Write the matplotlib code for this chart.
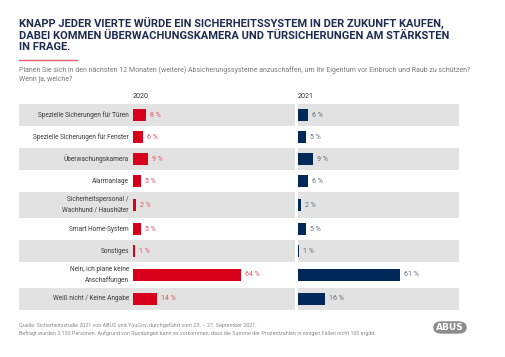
import matplotlib.pyplot as plt
from matplotlib.patches import FancyBboxPatch

# data
categories = ['Spezielle Sicherungen für Türen', 'Spezielle Sicherungen für Fenster',
              'Überwachungskamera', 'Alarmanlage',
              'Sicherheitspersonal /\nWachhund / Haushüter', 'Smart Home-System',
              'Sonstiges', 'Nein, ich plane keine\nAnschaffungen', 'Weiß nicht / Keine Angabe']
values_2020 = [8, 6, 9, 5, 2, 5, 1, 64, 14]
values_2021 = [6, 5, 9, 6, 2, 5, 1, 61, 16]
years = ['2020', '2021']

W, H = 506, 357
fig = plt.figure(figsize=(W / 100, H / 100), dpi=100)
plt.rcParams['font.family'] = ['Roboto', 'DejaVu Sans']

red = '#d9001b'
navy = '#00295a'
band = '#e2e2e2'

def fx(x):
    return x / W

def fy(y):
    return 1 - y / H

# title
fig.text(fx(19), fy(17), 'KNAPP JEDER VIERTE WÜRDE EIN SICHERHEITSSYSTEM IN DER ZUKUNFT KAUFEN,\n'
         'DABEI KOMMEN ÜBERWACHUNGSKAMERA UND TÜRSICHERUNGEN AM STÄRKSTEN\nIN FRAGE.',
         ha='left', va='top', fontsize=8.0, fontweight='bold', color='#1d2b4f', linespacing=1.15)
fig.add_artist(plt.Line2D([fx(19), fx(77)], [fy(59.5), fy(59.5)], color='#e4606c', lw=1))
fig.text(fx(19), fy(66), 'Planen Sie sich in den nächsten 12 Monaten (weitere) Absicherungssysteme anzuschaffen, '
         'um Ihr Eigentum vor Einbruch und Raub zu schützen?\nWenn ja, welche?',
         ha='left', va='top', fontsize=5.0, color='#7a7a7a', linespacing=1.5)

# row layout (two-line labels get taller rows)
heights = [26 if '\n' in c else 22 for c in categories]
edges = [0]
for h in heights:
    edges.append(edges[-1] + h)
centers = [(edges[i] + edges[i + 1]) / 2 for i in range(len(categories))]
total = edges[-1]
top = 104
scale = 1.68  # px per percent

ax1 = fig.add_axes([fx(19), fy(top + total), fx(295 - 19), total / H])
ax2 = fig.add_axes([fx(297.7), fy(top + total), fx(459 - 297.7), total / H])
ax1.set_xlim(-(133 - 19) / scale, (295 - 133) / scale)
ax2.set_xlim(0, (459 - 297.7) / scale)

for ax, vals, col, lcol in [(ax1, values_2020, red, '#e4505f'), (ax2, values_2021, navy, '#5b6a80')]:
    ax.set_ylim(total, 0)
    for i in range(0, len(categories), 2):
        ax.axhspan(edges[i], edges[i + 1], color=band, lw=0, zorder=0)
    ax.barh(centers, vals, height=12, color=col, zorder=2)
    for c, v in zip(centers, vals):
        ax.text(v + 4 / scale, c, f'{v} %', ha='left', va='center', fontsize=5.0, color=lcol)
    ax.axis('off')

for c, lab in zip(centers, categories):
    ax1.text(-4 / scale, c, lab, ha='right', va='center', fontsize=4.7, color='#3a3a3a', linespacing=1.7)

fig.text(fx(133), fy(97), years[0], ha='left', va='center', fontsize=5.2, color='#333333')
fig.text(fx(298), fy(97), years[1], ha='left', va='center', fontsize=5.2, color='#333333')

# footer
fig.text(fx(19), fy(322), 'Quelle: Sicherheitsstudie 2021 von ABUS und YouGov, durchgeführt vom 23. – 27. September 2021.\n'
         'Befragt wurden 2.130 Personen. Aufgrund von Rundungen kann es vorkommen, dass die Summe der '
         'Prozentzahlen in einigen Fällen nicht 100 ergibt.',
         ha='left', va='top', fontsize=3.85, color='#8a8a8a', linespacing=1.5)

# logo
logo = FancyBboxPatch((fx(434), fy(333)), fx(32), 11 / H, boxstyle='round,pad=0,rounding_size=0.015',
                      transform=fig.transFigure, facecolor='#8c8c8c', edgecolor='#8c8c8c', lw=1)
fig.add_artist(logo)
fig.text(fx(450), fy(327.5), 'ABUS', ha='center', va='center', fontsize=6.5, fontweight='bold',
         color='white', family='DejaVu Sans')

plt.savefig('out.png', dpi=100)
